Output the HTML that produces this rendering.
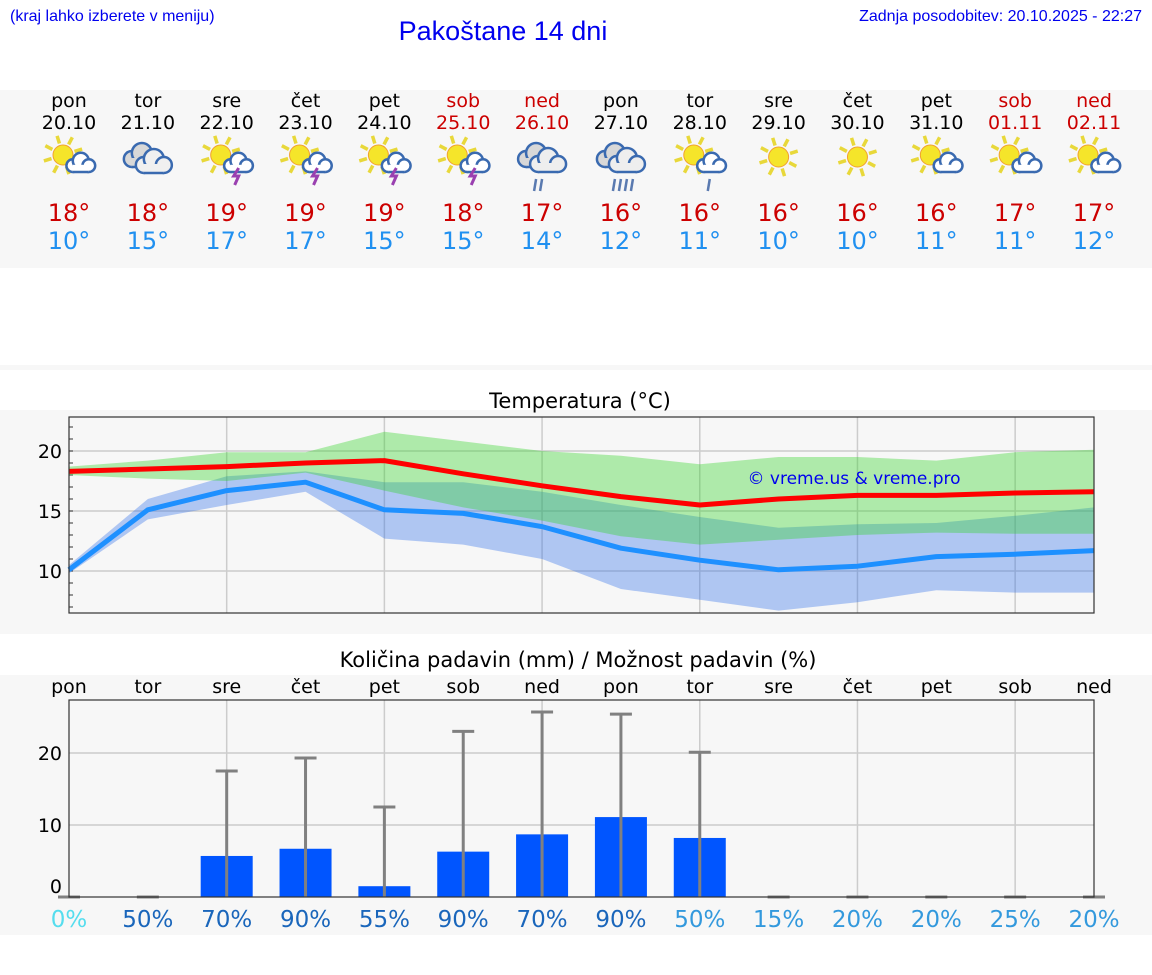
<!DOCTYPE html>
<html><head><meta charset="utf-8"><style>
body{margin:0;background:#fff;width:1152px;height:975px;overflow:hidden;font-family:"DejaVu Sans","Liberation Sans",sans-serif}
svg{display:block}
</style></head><body>
<svg id="s" width="1152" height="975" viewBox="0 0 1152 975" xmlns="http://www.w3.org/2000/svg" font-family="DejaVu Sans, Liberation Sans, sans-serif">
<rect x="0" y="90" width="1152" height="178" fill="#f7f7f7"/>
<rect x="0" y="365" width="1152" height="5" fill="#f7f7f7"/>
<rect x="0" y="410" width="1152" height="224" fill="#f7f7f7"/>
<rect x="0" y="675" width="1152" height="260" fill="#f7f7f7"/>
<text x="10" y="21" font-size="16" fill="#0000ee" font-family="Liberation Sans, sans-serif">(kraj lahko izberete v meniju)</text>
<text x="503" y="40" font-size="27" fill="#0000ee" text-anchor="middle" font-family="Liberation Sans, sans-serif">Pakoštane 14 dni</text>
<text x="1142" y="21" font-size="16" fill="#0000ee" text-anchor="end" font-family="Liberation Sans, sans-serif">Zadnja posodobitev: 20.10.2025 - 22:27</text>
<text x="580" y="408" font-size="21" text-anchor="middle" fill="#000">Temperatura (°C)</text>
<text x="578" y="667" font-size="21" text-anchor="middle" fill="#000">Količina padavin (mm) / Možnost padavin (%)</text>
<g id="hdr"></g><g id="tc"></g><g id="pc"></g>
</svg>
<script>
const days=["pon","tor","sre","čet","pet","sob","ned","pon","tor","sre","čet","pet","sob","ned"];
const dates=["20.10","21.10","22.10","23.10","24.10","25.10","26.10","27.10","28.10","29.10","30.10","31.10","01.11","02.11"];
const weekend=[0,0,0,0,0,1,1,0,0,0,0,0,1,1];
const icons=["pc","cl","st","st","st","st","ra","ra2","pcr","su","su","pc","pc","pc"];
const hiLabel=[18,18,19,19,19,18,17,16,16,16,16,16,17,17];
const loLabel=[10,15,17,17,15,15,14,12,11,10,10,11,11,12];
const tMax=[18.3,18.5,18.7,19.0,19.2,18.1,17.1,16.2,15.5,16.0,16.3,16.3,16.5,16.6];
const tMin=[10.1,15.1,16.7,17.4,15.1,14.8,13.7,11.9,10.9,10.1,10.4,11.2,11.4,11.7];
const maxHi=[18.7,19.2,19.9,19.9,21.6,20.8,20.0,19.6,18.9,19.5,19.5,19.2,19.9,20.1];
const maxLo=[18.0,17.7,17.5,18.2,16.7,15.3,14.2,12.9,12.2,12.6,13.0,13.2,13.1,13.1];
const minHi=[10.5,16.0,17.9,18.3,17.4,17.4,16.6,15.5,14.5,13.6,13.9,14.0,14.6,15.3];
const minLo=[9.8,14.3,15.5,16.6,12.7,12.2,11.0,8.5,7.6,6.7,7.4,8.4,8.2,8.2];
const tTicks=[10,15,20];
const precip=[0,0,5.7,6.7,1.5,6.3,8.7,11.1,8.2,0,0,0,0,0];
const precipMax=[0,0,17.5,19.3,12.5,23,25.7,25.4,20.1,0,0,0,0,0];
const chance=[0,50,70,90,55,90,70,90,50,15,20,20,25,20];
const pTicks=[0,10,20];
const NS="http://www.w3.org/2000/svg";
function mk(p,tag,a,txt){const e=document.createElementNS(NS,tag);for(const k in a)e.setAttribute(k,a[k]);if(txt!==undefined)e.textContent=txt;p.appendChild(e);return e;}
const X0=69,X1=1094,dx=(X1-X0)/13;
const xi=i=>X0+i*dx;
const ty=v=>451-(v-20)*12;
const py=v=>897-v*7.2;
const hdr=document.getElementById('hdr');
function sun(g,cx,cy,r){for(let k=0;k<8;k++){const a=k*Math.PI/4-0.3;mk(g,'line',{x1:cx+Math.cos(a)*(r+2),y1:cy+Math.sin(a)*(r+2),x2:cx+Math.cos(a)*(r+10),y2:cy+Math.sin(a)*(r+10),stroke:'#e8d83a','stroke-width':3.5});}mk(g,'circle',{cx:cx,cy:cy,r:r,fill:'#f5e52a',stroke:'#f0a030','stroke-width':1});}
function cloud(g,cx,cy,s,fill){const a={fill:fill,stroke:'#3a6ab0','stroke-width':2.5};mk(g,'circle',Object.assign({cx:cx-9*s,cy:cy+2*s,r:8*s},a));mk(g,'circle',Object.assign({cx:cx+1*s,cy:cy-4*s,r:10*s},a));mk(g,'circle',Object.assign({cx:cx+11*s,cy:cy+2*s,r:8*s},a));mk(g,'rect',{x:cx-9*s,y:cy+1*s,width:20*s,height:9*s,fill:fill});mk(g,'line',{x1:cx-9*s,y1:cy+10*s,x2:cx+11*s,y2:cy+10*s,stroke:'#3a6ab0','stroke-width':2.5});}
for(let i=0;i<14;i++){
  const x=xi(i);const col=weekend[i]?'#cc0000':'#000';
  let t=mk(hdr,'text',{x:x,y:107,'font-size':19,'text-anchor':'middle',fill:col},days[i]);
  
  t=mk(hdr,'text',{x:x,y:129,'font-size':19,'text-anchor':'middle',fill:col},dates[i]);
  
  const g=mk(hdr,'g',{});
  
  const ic=icons[i];
  if(ic==='su'){sun(g,x,157,10);}
  else if(ic==='cl'){cloud(g,x-7,157,1,'#d8d8d8');cloud(g,x+5,163,1,'#f0f0f0');}
  else if(ic==='ra'||ic==='ra2'){cloud(g,x-7,157,1,'#d8d8d8');cloud(g,x+5,162,1,'#eeeeee');for(let k=0;k<(ic==='ra2'?4:2);k++)mk(g,'line',{x1:x-6+k*6,y1:179,x2:x-8+k*6,y2:191,stroke:'#5a7ab0','stroke-width':2.5});}
  else {sun(g,x-6,155,10);cloud(g,x+11,164,0.8,'#fff');
    if(ic==='st')mk(g,'path',{d:`M${x+12} 168 l-5 8 h5 l-4 9`,fill:'none',stroke:'#9a40b0','stroke-width':3});
    if(ic==='pcr')mk(g,'line',{x1:x+10,y1:179,x2:x+8,y2:191,stroke:'#5a7ab0','stroke-width':2.5});}
  t=mk(hdr,'text',{x:x,y:221,'font-size':24,'text-anchor':'middle',fill:'#cc0000'},hiLabel[i]+'°');
  
  t=mk(hdr,'text',{x:x,y:249,'font-size':24,'text-anchor':'middle',fill:'#2090f0'},loLabel[i]+'°');
  
}
const tc=document.getElementById('tc');
for(let i=1;i<13;i+=2){const l=mk(tc,'line',{x1:xi(i+1),y1:417,x2:xi(i+1),y2:613,stroke:'#ccc','stroke-width':1.5});}
tTicks.forEach(v=>{const l=mk(tc,'line',{x1:X0,y1:ty(v),x2:X1,y2:ty(v),stroke:'#ccc','stroke-width':1.5});
 const t=mk(tc,'text',{x:62,y:ty(v)+7,'font-size':19,'text-anchor':'end',fill:'#000'},v);});
for(let v=7;v<=22;v++){mk(tc,'line',{x1:X0,y1:ty(v),x2:X0+4,y2:ty(v),stroke:'#333','stroke-width':1});}
function band(hi,lo,fill,name){let d='M'+hi.map((v,i)=>xi(i)+' '+ty(v)).join(' L')+' L'+lo.map((v,i)=>xi(i)+' '+ty(v)).reverse().join(' L')+'Z';const p=mk(tc,'path',{d:d,fill:fill});}
band(minHi,minLo,'rgba(30,100,235,0.33)','min-temp-range');
band(maxHi,maxLo,'rgba(50,212,39,0.37)','max-temp-range');
function line(v,col,name){const p=mk(tc,'polyline',{points:v.map((a,i)=>xi(i)+','+ty(a)).join(' '),fill:'none',stroke:col,'stroke-width':5,'stroke-linejoin':'round'});}
line(tMax,'#ff0000','max-temp-line');line(tMin,'#1e90ff','min-temp-line');
let w=mk(tc,'text',{x:854,y:484,'font-size':17,'text-anchor':'middle',fill:'#0000ee'},'© vreme.us & vreme.pro');
let fr=mk(tc,'rect',{x:X0,y:417,width:X1-X0,height:196,fill:'none',stroke:'#333','stroke-width':1.2});
const pc=document.getElementById('pc');
for(let i=1;i<13;i+=2){const l=mk(pc,'line',{x1:xi(i+1),y1:700,x2:xi(i+1),y2:897,stroke:'#ccc','stroke-width':1.5});}
pTicks.forEach(v=>{if(v>0){const l=mk(pc,'line',{x1:X0,y1:py(v),x2:X1,y2:py(v),stroke:'#ccc','stroke-width':1.5});}
 const t=mk(pc,'text',{x:62,y:py(v)+7-(v===0?11:0),'font-size':19,'text-anchor':'end',fill:'#000'},v);});
const chanceCol=c=>c===0?'#55ddee':'#1a66bb';
for(let i=0;i<14;i++){
  const x=xi(i);
  let t=mk(pc,'text',{x:x,y:693,'font-size':19,'text-anchor':'middle',fill:'#000'},days[i]);
  if(precip[i]>0){const b=mk(pc,'rect',{x:x-26,y:py(precip[i]),width:52,height:precip[i]*7.2,fill:'#0055ff'});}
  const e=mk(pc,'g',{});
  mk(e,'line',{x1:x,y1:py(0),x2:x,y2:py(precipMax[i]),stroke:'#808080','stroke-width':3});
  mk(e,'line',{x1:x-11,y1:py(precipMax[i]),x2:x+11,y2:py(precipMax[i]),stroke:'#808080','stroke-width':3});
  t=mk(pc,'text',{x:x,y:927,'font-size':23,'text-anchor':'middle',fill:(i>=8&&chance[i]>0)?'#3399dd':chanceCol(chance[i])},chance[i]+'%');
}
fr=mk(pc,'rect',{x:X0,y:700,width:X1-X0,height:197,fill:'none',stroke:'#333','stroke-width':1.2});
</script>
</body></html>
